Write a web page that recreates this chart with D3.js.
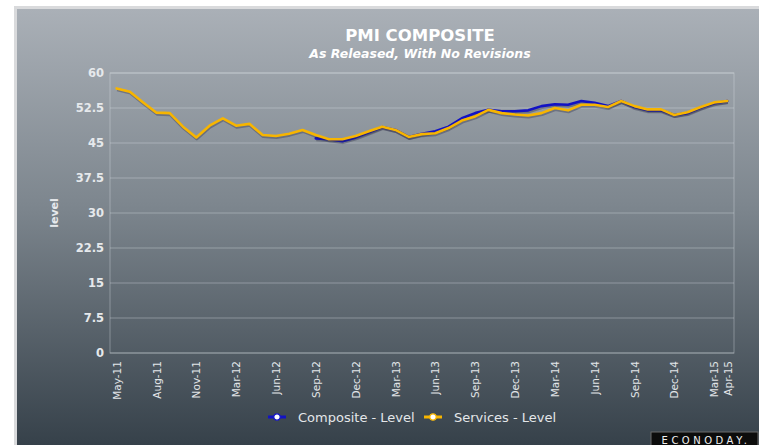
<!DOCTYPE html>
<html>
<head>
<meta charset="utf-8">
<script src="https://cdn.jsdelivr.net/npm/d3@7.9.0/dist/d3.min.js"></script>
<style>
  html, body { margin: 0; padding: 0; background: #fff; }
  svg { display: block; font-family: 'DejaVu Sans', Verdana, sans-serif; }
</style>
</head>
<body>
<div id="chart"></div>
<script>
const months = [
  'May-11', 'Jun-11', 'Jul-11', 'Aug-11', 'Sep-11', 'Oct-11', 'Nov-11', 'Dec-11',
  'Feb-12', 'Mar-12', 'Apr-12', 'May-12', 'Jun-12', 'Jul-12', 'Aug-12', 'Sep-12', 'Oct-12', 'Nov-12', 'Dec-12',
  'Jan-13', 'Feb-13', 'Mar-13', 'Apr-13', 'May-13', 'Jun-13', 'Jul-13', 'Aug-13', 'Sep-13', 'Oct-13', 'Nov-13', 'Dec-13',
  'Jan-14', 'Feb-14', 'Mar-14', 'Apr-14', 'May-14', 'Jun-14', 'Jul-14', 'Aug-14', 'Sep-14', 'Oct-14', 'Nov-14', 'Dec-14',
  'Jan-15', 'Feb-15', 'Mar-15', 'Apr-15',
];

const services = [
  56.7, 56.0, 53.7, 51.5, 51.4, 48.5, 46.2, 48.7,
  50.3, 48.7, 49.1, 46.7, 46.5, 47.0, 47.8, 46.7, 45.8, 45.8, 46.5,
  47.5, 48.5, 47.8, 46.3, 46.9, 47.1, 48.2, 49.8, 50.7, 52.1, 51.4, 51.1,
  50.9, 51.4, 52.5, 52.0, 53.2, 53.2, 52.7, 54.0, 52.9, 52.2, 52.2, 51.0,
  51.6, 52.7, 53.7, 54.0,
];

const composite = [
  null, null, null, null, null, null, null, null,
  null, null, null, null, null, null, null, 46.0, 45.8, 45.4, 46.2,
  47.3, 48.4, 47.8, 46.3, 47.0, 47.5, 48.5, 50.3, 51.4, 52.1, 51.8, 51.8,
  52.0, 52.9, 53.3, 53.2, 54.0, 53.6, 52.9, 54.0, 52.7, 52.0, 52.0, 51.0,
  51.4, 52.6, 53.5, 54.0,
];

const tickLabels = [
  'May-11', 'Aug-11', 'Nov-11', 'Mar-12', 'Jun-12', 'Sep-12', 'Dec-12', 'Mar-13',
  'Jun-13', 'Sep-13', 'Dec-13', 'Mar-14', 'Jun-14', 'Sep-14', 'Dec-14', 'Mar-15', 'Apr-15',
];
const yTicks = [0, 7.5, 15, 22.5, 30, 37.5, 45, 52.5, 60];

const width = 759;
const height = 445;
const plot = { left: 110, right: 734, top: 73, bottom: 353 };

const svg = d3.select('#chart').append('svg')
  .attr('width', width)
  .attr('height', height);

const defs = svg.append('defs');
const bg = defs.append('linearGradient')
  .attr('id', 'bg')
  .attr('x1', 0).attr('y1', 0).attr('x2', 0).attr('y2', 1);
bg.append('stop').attr('offset', '0%').attr('stop-color', '#aab0b7');
bg.append('stop').attr('offset', '45%').attr('stop-color', '#7d868e');
bg.append('stop').attr('offset', '100%').attr('stop-color', '#36414a');

// frame
svg.append('rect')
  .attr('x', 14).attr('y', 6)
  .attr('width', width - 14).attr('height', height - 6)
  .attr('fill', '#d9dadc');
svg.append('rect')
  .attr('x', 17).attr('y', 9)
  .attr('width', width - 17).attr('height', height - 9)
  .attr('fill', 'url(#bg)');

const x = d3.scalePoint()
  .domain(months)
  .range([plot.left, plot.right])
  .padding(0.5);

const y = d3.scaleLinear()
  .domain([0, 60])
  .range([plot.bottom, plot.top]);

// gridlines
svg.append('g')
  .selectAll('line')
  .data(yTicks)
  .join('line')
  .attr('x1', plot.left).attr('x2', plot.right)
  .attr('y1', (d) => y(d)).attr('y2', (d) => y(d))
  .attr('stroke', 'rgba(225,230,235,0.35)')
  .attr('stroke-width', 1);

svg.append('rect')
  .attr('x', plot.left).attr('y', plot.top)
  .attr('width', plot.right - plot.left).attr('height', plot.bottom - plot.top)
  .attr('fill', 'none')
  .attr('stroke', 'rgba(225,230,235,0.35)');

// y axis
const yAxis = svg.append('g')
  .attr('transform', `translate(${plot.left}, 0)`)
  .call(d3.axisLeft(y).tickValues(yTicks).tickSize(0).tickPadding(6)
    .tickFormat((d) => String(d)));
yAxis.select('.domain').remove();
yAxis.selectAll('text')
  .attr('fill', '#e6e9ec')
  .attr('font-size', 11.5)
  .attr('font-weight', 'bold')
  .attr('font-family', "'DejaVu Sans', Verdana, sans-serif");

svg.append('text')
  .attr('transform', 'translate(58, 213) rotate(-90)')
  .attr('text-anchor', 'middle')
  .attr('fill', '#e6e9ec')
  .attr('font-size', 11)
  .attr('font-weight', 'bold')
  .text('level');

// x axis
const xAxis = svg.append('g')
  .attr('transform', `translate(0, ${plot.bottom})`)
  .call(d3.axisBottom(x).tickValues(tickLabels).tickSize(0).tickPadding(0));
xAxis.select('.domain').remove();
xAxis.selectAll('text')
  .attr('transform', 'rotate(-90)')
  .attr('text-anchor', 'end')
  .attr('x', -8)
  .attr('y', 0)
  .attr('dy', '0.35em')
  .attr('fill', '#e3e6e9')
  .attr('font-size', 10.5)
  .attr('font-family', "'DejaVu Sans', Verdana, sans-serif");

// lines
const line = d3.line()
  .defined((d) => d.v != null)
  .x((d) => x(d.m))
  .y((d) => y(d.v));

const series = [
  { name: 'Composite - Level', values: composite, color: '#1212c4' },
  { name: 'Services - Level', values: services, color: '#f7b500' },
];

series.forEach((s) => {
  const pts = months.map((m, i) => ({ m, v: s.values[i] }));
  svg.append('path')
    .datum(pts)
    .attr('d', line)
    .attr('transform', 'translate(0.5, 1.5)')
    .attr('fill', 'none')
    .attr('stroke', 'rgba(40,40,70,0.35)')
    .attr('stroke-width', 3)
    .attr('stroke-linejoin', 'round');
  svg.append('path')
    .datum(pts)
    .attr('d', line)
    .attr('fill', 'none')
    .attr('stroke', s.color)
    .attr('stroke-width', 2.6)
    .attr('stroke-linejoin', 'round')
    .attr('stroke-linecap', 'round');
});

// title
svg.append('text')
  .attr('x', 420).attr('y', 41)
  .attr('text-anchor', 'middle')
  .attr('fill', '#ffffff')
  .attr('font-size', 16.5)
  .attr('font-weight', 'bold')
  .text('PMI COMPOSITE');
svg.append('text')
  .attr('x', 420).attr('y', 58)
  .attr('text-anchor', 'middle')
  .attr('fill', '#ffffff')
  .attr('font-size', 12.5)
  .attr('font-weight', 'bold')
  .attr('font-style', 'italic')
  .text('As Released, With No Revisions');

// legend
const legendX = [277, 433];
series.forEach((s, i) => {
  const g = svg.append('g').attr('transform', `translate(${legendX[i]}, 417)`);
  g.append('line')
    .attr('x1', -9).attr('x2', 9)
    .attr('stroke', s.color)
    .attr('stroke-width', 3);
  g.append('circle')
    .attr('r', 3.2)
    .attr('fill', '#ffffff')
    .attr('stroke', s.color)
    .attr('stroke-width', 1.2);
  g.append('text')
    .attr('x', 21).attr('y', 4.5)
    .attr('fill', '#e3e6e9')
    .attr('font-size', 13)
    .text(s.name);
});

// logo
const logo = svg.append('g').attr('transform', 'translate(651, 432)');
logo.append('rect')
  .attr('width', 107).attr('height', 15)
  .attr('fill', '#0c0c0c')
  .attr('stroke', '#6a6a6a');
logo.append('text')
  .attr('x', 55).attr('y', 11.5)
  .attr('text-anchor', 'middle')
  .attr('fill', '#f0f0f0')
  .attr('font-size', 10)
  .attr('letter-spacing', 3.5)
  .text('ECONODAY.');
</script>
</body>
</html>
